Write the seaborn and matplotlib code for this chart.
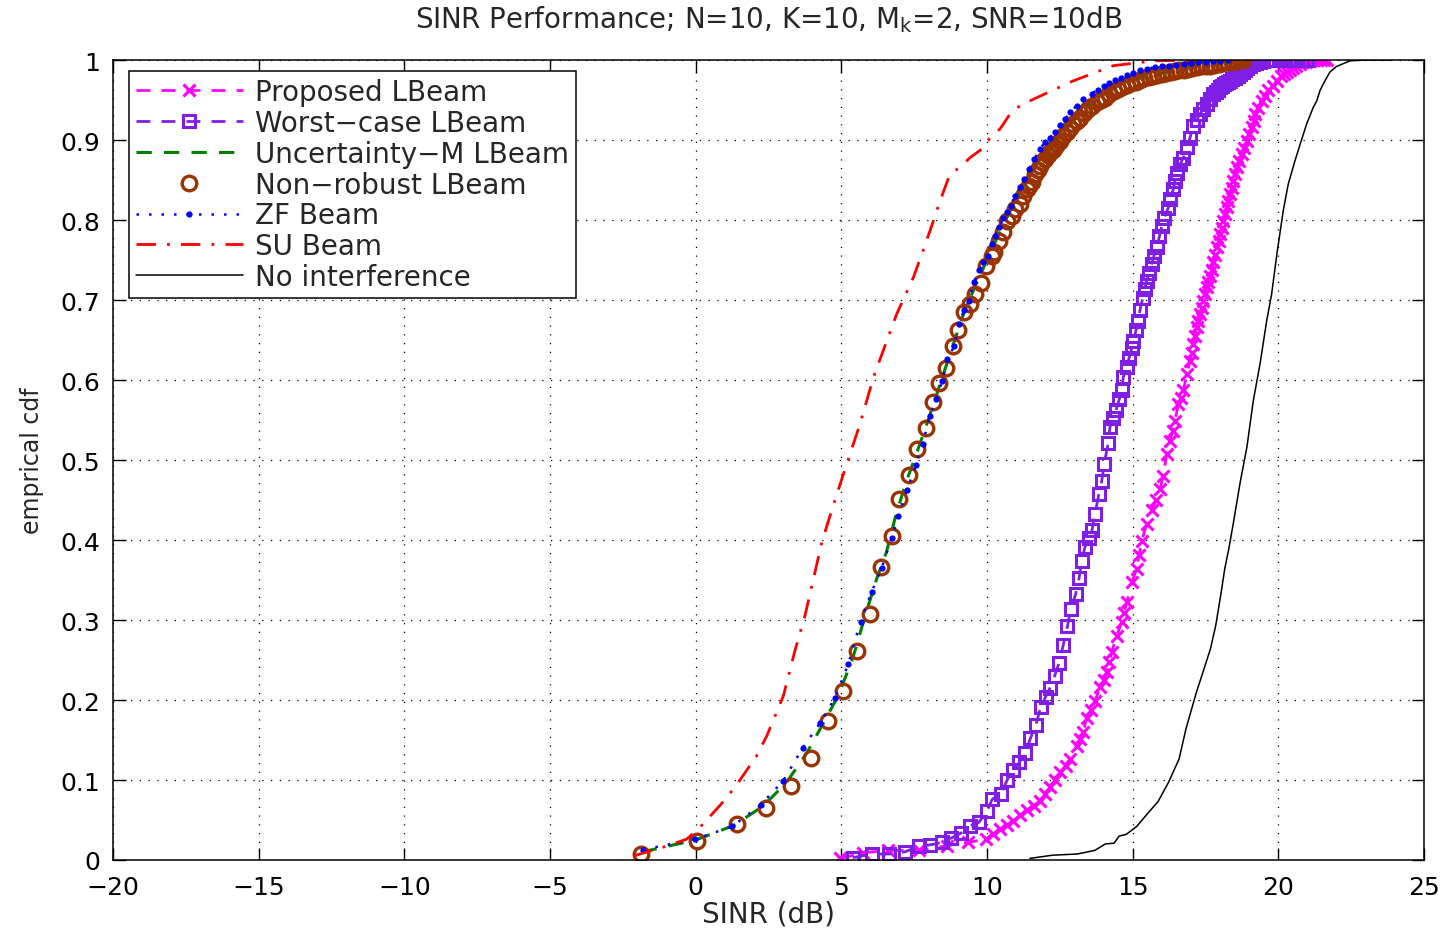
import numpy as np
import seaborn as sns
import matplotlib.pyplot as plt

sns.set_style("ticks")
plt.rcParams['font.family'] = ['DejaVu Sans']

## ECDF points (SINR in dB, cdf value)
prop_x = [4.97, 5.75, 6.59, 7.68, 8.64, 9.36, 9.97, 10.2, 10.45, 10.7, 10.9, 11.15, 11.36, 11.6,
          11.82, 12.0, 12.16, 12.35, 12.51, 12.7, 12.85, 13.08, 13.2, 13.31, 13.42, 13.58, 13.71,
          13.88, 14.0, 14.11, 14.2, 14.28, 14.45, 14.62, 14.7, 14.80, 14.97, 15.14, 15.22, 15.31,
          15.48, 15.65, 15.8, 15.94, 16.05, 16.17, 16.28, 16.37, 16.45, 16.57, 16.65, 16.74, 16.86,
          16.97, 17.03, 17.08, 17.14, 17.20, 17.25, 17.31, 17.37, 17.43, 17.49, 17.54, 17.6, 17.66,
          17.72, 17.77, 17.83, 17.89, 17.95, 18.00, 18.06, 18.11, 18.17, 18.23, 18.28, 18.34, 18.4,
          18.46, 18.52, 18.57, 18.65, 18.74, 18.83, 18.92, 19.0, 19.09, 19.15, 19.20, 19.3, 19.43,
          19.55, 19.66, 19.8, 19.95, 20.1, 20.2, 20.29, 20.4, 20.5, 20.62, 20.75, 20.85, 20.95,
          21.08, 21.2, 21.33, 21.45, 21.55, 21.66]
prop_y = [0.002, 0.009, 0.012, 0.012, 0.018, 0.022, 0.026, 0.032, 0.039, 0.044, 0.049, 0.056, 0.062,
          0.068, 0.074, 0.082, 0.091, 0.1, 0.110, 0.118, 0.126, 0.143, 0.151, 0.160, 0.178, 0.188,
          0.199, 0.216, 0.225, 0.235, 0.247, 0.260, 0.280, 0.297, 0.309, 0.322, 0.347, 0.364, 0.381,
          0.399, 0.420, 0.437, 0.45, 0.464, 0.480, 0.5075, 0.524, 0.536, 0.549, 0.570, 0.578, 0.587,
          0.6075, 0.624, 0.634, 0.645, 0.655, 0.666, 0.674, 0.6825, 0.69, 0.699, 0.707, 0.716, 0.723,
          0.730, 0.738, 0.747, 0.756, 0.766, 0.774, 0.7825, 0.79, 0.799, 0.807, 0.816, 0.824, 0.8325,
          0.84, 0.849, 0.857, 0.866, 0.874, 0.8825, 0.89, 0.899, 0.907, 0.916, 0.924, 0.9325, 0.94,
          0.949, 0.955, 0.962, 0.968, 0.974, 0.98, 0.983, 0.985, 0.988, 0.99, 0.993, 0.995, 0.997,
          0.998, 0.999, 1.0, 1.0, 1.0, 1.0, 1.0]

worst_x = [5.39, 6.05, 6.65, 7.17, 7.65, 8.06, 8.46, 8.78, 9.12, 9.42, 9.72, 10.00, 10.18, 10.48,
           10.69, 10.90, 11.11, 11.31, 11.49, 11.68, 11.84, 12.01, 12.16, 12.32, 12.47, 12.62, 12.76,
           12.88, 13.04, 13.16, 13.25, 13.36, 13.50, 13.61, 13.71, 13.84, 13.94, 14.02, 14.16, 14.22,
           14.34, 14.43, 14.54, 14.62, 14.68, 14.80, 14.88, 14.97, 15.02, 15.12, 15.19, 15.25, 15.35,
           15.42, 15.48, 15.57, 15.65, 15.73, 15.83, 15.92, 16.00, 16.08, 16.22, 16.28, 16.40, 16.45,
           16.53, 16.63, 16.74, 16.86, 16.97, 17.08, 17.20, 17.31, 17.43, 17.54, 17.66, 17.77, 17.85,
           17.92, 18.0, 18.06, 18.13, 18.20, 18.27, 18.34, 18.42, 18.50, 18.6, 18.69, 18.77, 18.85,
           18.94, 19.03, 19.14, 19.25, 19.37, 19.49, 19.62, 19.75, 19.9, 20.06, 20.2, 20.35, 20.5,
           20.65, 20.8, 20.98]
worst_y = [0.003, 0.0075, 0.0075, 0.010, 0.017, 0.019, 0.022, 0.0275, 0.034, 0.043, 0.047, 0.061,
           0.076, 0.082, 0.100, 0.1125, 0.122, 0.134, 0.152, 0.169, 0.191, 0.204, 0.215, 0.230, 0.246,
           0.269, 0.292, 0.314, 0.332, 0.352, 0.374, 0.391, 0.402, 0.413, 0.433, 0.4575, 0.474, 0.495,
           0.521, 0.541, 0.553, 0.5625, 0.576, 0.5875, 0.604, 0.616, 0.628, 0.640, 0.649, 0.6625, 0.674,
           0.6875, 0.703, 0.714, 0.724, 0.734, 0.745, 0.755, 0.766, 0.780, 0.793, 0.803, 0.815, 0.826,
           0.839, 0.849, 0.859, 0.870, 0.878, 0.891, 0.903, 0.918, 0.925, 0.9325, 0.939, 0.945, 0.951,
           0.9575, 0.96, 0.963, 0.966, 0.968, 0.97, 0.971, 0.973, 0.974, 0.976, 0.978, 0.98, 0.9825,
           0.985, 0.988, 0.99, 0.993, 0.995, 0.996, 0.998, 0.999, 1.0, 1.0, 1.0, 1.0, 1.0, 1.0, 1.0,
           1.0, 1.0, 1.0]

unc_x = [-1.85, 0.0, 1.3, 2.3, 3.1, 3.8, 4.4, 4.9, 5.4, 5.8, 6.2, 6.55, 6.85, 7.2, 7.6, 8.0, 8.4,
         8.8, 9.2, 9.6, 10.0, 10.5, 11.0, 11.5, 12.0, 12.5, 13.0, 13.5, 14.3, 15.3, 16.4, 17.5, 18.5]
unc_y = [0.010, 0.025, 0.043, 0.067, 0.096, 0.133, 0.172, 0.206, 0.253, 0.303, 0.350, 0.385, 0.428,
         0.470, 0.510, 0.552, 0.596, 0.640, 0.683, 0.718, 0.750, 0.790, 0.826, 0.858, 0.886, 0.906,
         0.925, 0.945, 0.965, 0.978, 0.987, 0.994, 1.0]

nonrob_x = [-1.89, 0.06, 1.41, 2.40, 3.26, 3.95, 4.55, 5.07, 5.55, 5.98, 6.37, 6.73, 6.99, 7.33,
            7.61, 7.90, 8.16, 8.36, 8.59, 8.84, 9.02, 9.21, 9.42, 9.59, 9.78, 9.96, 10.16, 10.25,
            10.41, 10.56, 10.68, 10.85, 10.96, 11.13, 11.25, 11.36, 11.45, 11.53, 11.65, 11.74, 11.82,
            11.90, 11.99, 12.08, 12.16, 12.25, 12.33, 12.42, 12.51, 12.62, 12.74, 12.85, 12.96, 13.08,
            13.19, 13.33, 13.48, 13.62, 13.77, 13.9, 14.05, 14.2, 14.35, 14.5, 14.65, 14.8, 14.95,
            15.1, 15.25, 15.4, 15.55, 15.7, 15.85, 16.0, 16.15, 16.3, 16.45, 16.6, 16.75, 16.9, 17.05,
            17.2, 17.35, 17.5, 17.65, 17.8, 17.95, 18.1, 18.25, 18.4, 18.55, 18.7, 18.79]
nonrob_y = [0.0075, 0.024, 0.045, 0.065, 0.093, 0.127, 0.174, 0.211, 0.261, 0.308, 0.366, 0.405,
            0.451, 0.481, 0.514, 0.540, 0.573, 0.596, 0.615, 0.643, 0.662, 0.685, 0.695, 0.707, 0.721,
            0.743, 0.755, 0.760, 0.774, 0.785, 0.799, 0.805, 0.814, 0.820, 0.830, 0.839, 0.843, 0.847,
            0.857, 0.862, 0.868, 0.872, 0.876, 0.881, 0.885, 0.888, 0.891, 0.895, 0.899, 0.905, 0.910,
            0.915, 0.920, 0.924, 0.928, 0.934, 0.939, 0.943, 0.947, 0.950, 0.953, 0.957, 0.961, 0.964,
            0.966, 0.969, 0.971, 0.973, 0.975, 0.977, 0.979, 0.980, 0.981, 0.983, 0.984, 0.985, 0.986,
            0.987, 0.988, 0.989, 0.990, 0.991, 0.992, 0.993, 0.993, 0.994, 0.995, 0.996, 0.997, 0.998,
            0.999, 1.0, 1.0]

zf_x = [-1.80, -0.02, 1.26, 2.23, 3.01, 3.67, 4.27, 4.78, 5.24, 5.66, 6.04, 6.38, 6.73, 6.96, 7.25,
        7.56, 7.79, 8.04, 8.25, 8.47, 8.64, 8.87, 9.04, 9.21, 9.38, 9.56, 9.74, 9.87, 10.02, 10.16,
        10.27, 10.42, 10.56, 10.70, 10.81, 10.96, 11.13, 11.27, 11.45, 11.62, 11.82, 11.99, 12.16,
        12.33, 12.51, 12.68, 12.85, 13.08, 13.31, 13.59, 13.82, 14.0, 14.2, 14.4, 14.6, 14.8, 15.0,
        15.25, 15.5, 15.75, 16.0, 16.25, 16.5, 16.75, 17.0, 17.25, 17.5, 17.75, 18.0, 18.28]
zf_y = [0.013, 0.026, 0.042, 0.069, 0.099, 0.140, 0.171, 0.2025, 0.245, 0.298, 0.335, 0.365, 0.4025,
        0.430, 0.462, 0.494, 0.520, 0.555, 0.576, 0.599, 0.626, 0.642, 0.670, 0.687, 0.699, 0.723,
        0.737, 0.747, 0.755, 0.770, 0.780, 0.791, 0.802, 0.810, 0.818, 0.830, 0.841, 0.851, 0.864,
        0.876, 0.889, 0.897, 0.903, 0.910, 0.919, 0.926, 0.935, 0.943, 0.951, 0.958, 0.963, 0.967,
        0.971, 0.975, 0.978, 0.981, 0.984, 0.987, 0.989, 0.991, 0.992, 0.993, 0.994, 0.995, 0.996,
        0.997, 0.998, 0.999, 0.999, 1.0]

su_x = [-2.14, -1.11, -0.31, 0.15, 0.83, 1.35, 2.09, 2.44, 3.01, 3.41, 3.75, 4.04, 4.33, 4.72, 5.05,
        5.64, 6.10, 6.56, 6.90, 7.47, 7.81, 8.16, 8.39, 8.73, 9.07, 9.42, 9.76, 10.11, 10.45, 10.79,
        11.13, 11.71, 12.96, 14.34, 15.71, 17.08]
su_y = [0.005, 0.016, 0.026, 0.041, 0.068, 0.091, 0.130, 0.155, 0.205, 0.262, 0.305, 0.351, 0.397,
        0.443, 0.48, 0.545, 0.603, 0.649, 0.6825, 0.728, 0.762, 0.799, 0.824, 0.8575, 0.866, 0.878,
        0.887, 0.903, 0.914, 0.9325, 0.943, 0.953, 0.974, 0.993, 0.999, 1.0]

noint_x = [11.47, 12.25, 13.10, 13.70, 14.06, 14.36, 14.54, 14.78, 15.14, 15.51, 15.87, 16.23, 16.59,
           16.83, 17.19, 17.37, 17.67, 17.85, 18.04, 18.16, 18.30, 18.45, 18.69, 18.92, 19.14, 19.37,
           19.60, 19.77, 19.95, 20.17, 20.34, 20.57, 20.75, 20.97, 21.20, 21.32, 21.43, 21.60, 21.77,
           22.00, 22.46, 23.00, 23.84]
noint_y = [0.002, 0.006, 0.0075, 0.012, 0.020, 0.021, 0.030, 0.032, 0.042, 0.058, 0.073, 0.097, 0.126,
           0.164, 0.210, 0.230, 0.264, 0.293, 0.335, 0.364, 0.389, 0.420, 0.472, 0.516, 0.574, 0.620,
           0.674, 0.7075, 0.7575, 0.812, 0.845, 0.874, 0.895, 0.920, 0.941, 0.949, 0.962, 0.974, 0.985,
           0.992, 0.999, 1.0, 1.0]

xticks = [-20, -15, -10, -5, 0, 5, 10, 15, 20, 25]
yticks = [0, 0.1, 0.2, 0.3, 0.4, 0.5, 0.6, 0.7, 0.8, 0.9, 1]
ytick_labels = ['0', '0.1', '0.2', '0.3', '0.4', '0.5', '0.6', '0.7', '0.8', '0.9', '1']

fig = plt.figure(figsize=(14.46, 9.29), dpi=100)
ax = fig.add_axes([0.0781, 0.0732, 0.9067, 0.8611])

common = dict(ax=ax, estimator=None, sort=False)
sns.lineplot(x=prop_x, y=prop_y, color='#FF00FF', linestyle=(0, (5, 4)), linewidth=2,
             marker='x', markersize=8.5, markeredgewidth=2.2, markeredgecolor='#FF00FF',
             label='Proposed LBeam', **common)
sns.lineplot(x=worst_x, y=worst_y, color='#7F1FE6', linestyle=(0, (5, 4)), linewidth=2,
             marker='s', markersize=8, markeredgewidth=2.2, markeredgecolor='#7F1FE6',
             markerfacecolor='none', label='Worst\u2212case LBeam', **common)
sns.lineplot(x=unc_x, y=unc_y, color='#008000', linestyle=(0, (5, 4)), linewidth=2.2,
             label='Uncertainty\u2212M LBeam', **common)
sns.lineplot(x=nonrob_x, y=nonrob_y, color='#993300', linestyle='None',
             marker='o', markersize=10.5, markeredgewidth=2.4, markeredgecolor='#993300',
             markerfacecolor='none', label='Non\u2212robust LBeam', **common)
sns.lineplot(x=zf_x, y=zf_y, color='#0000FF', linestyle=(0, (1, 4)), linewidth=1.8,
             marker='o', markersize=4.5, markeredgewidth=0, markeredgecolor='#0000FF',
             label='ZF Beam', **common)
sns.lineplot(x=su_x, y=su_y, color='#FF0000', linestyle=(0, (7, 4, 1, 4)), linewidth=2,
             label='SU Beam', **common)
sns.lineplot(x=noint_x, y=noint_y, color='black', linewidth=1.1,
             label='No interference', **common)

ax.set_xlim(-20, 25)
ax.set_ylim(0, 1)
ax.set_xticks(xticks)
ax.set_yticks(yticks)
ax.set_yticklabels(ytick_labels)
ax.tick_params(direction='in', length=9, width=1, top=True, right=True, labelsize=18,
               colors='black')
ax.tick_params(axis='x', pad=11)
ax.tick_params(axis='y', pad=9)
ax.grid(True, color='black', linestyle=(0, (1, 6)), linewidth=0.9)
for s in ax.spines.values():
    s.set_linewidth(1.1)
    s.set_color('black')

ax.set_title('SINR Performance; N=10, K=10, M$_\\mathregular{k}$=2, SNR=10dB', fontsize=20, pad=24)
ax.set_xlabel('SINR (dB)', fontsize=20, labelpad=0)
ax.set_ylabel('emprical cdf', fontsize=17, labelpad=12)

leg = ax.legend(loc='upper left', bbox_to_anchor=(0.0122, 0.986), borderaxespad=0,
                fontsize=20, handlelength=3.85, handletextpad=0.45, labelspacing=0.1,
                borderpad=0.25, fancybox=False, framealpha=1, edgecolor='black')
leg.get_frame().set_linewidth(1.1)

plt.savefig('out.png', dpi=100)
